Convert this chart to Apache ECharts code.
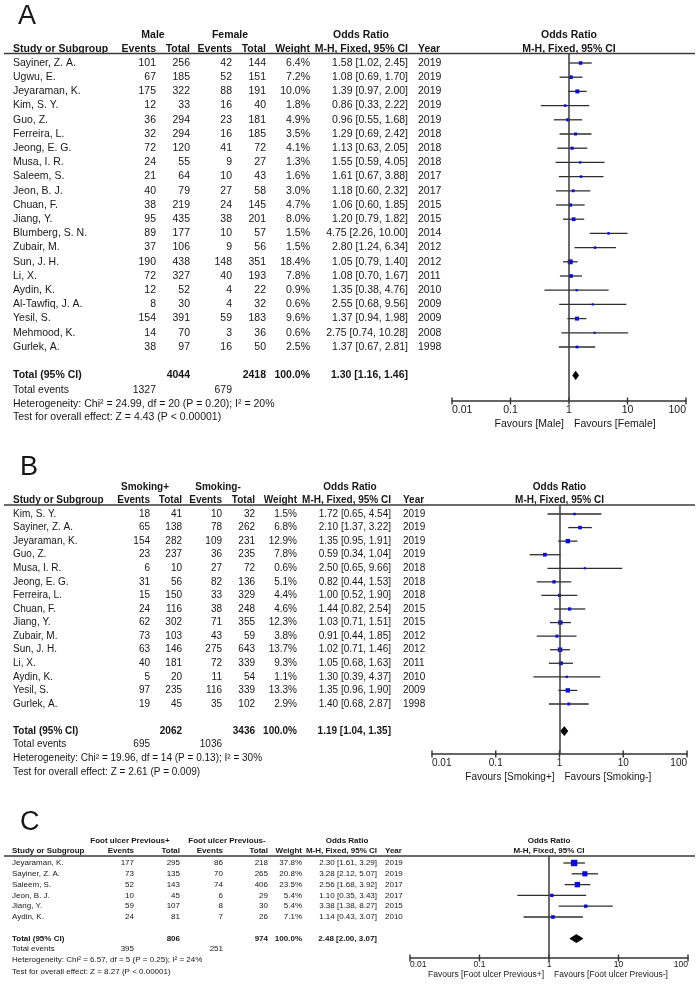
<!DOCTYPE html>
<html><head><meta charset="utf-8">
<script src="https://cdn.jsdelivr.net/npm/echarts@6/dist/echarts.min.js"></script>
<style>html,body{margin:0;padding:0;background:#fff}#c{width:700px;height:985px}</style>
</head><body><div id="c"></div>
<script>
// ---------- Panel A : Male vs Female ----------
const A_study = ['Sayiner, Z. A.','Ugwu, E.','Jeyaraman, K.','Kim, S. Y.','Guo, Z.','Ferreira, L.','Jeong, E. G.','Musa, I. R.','Saleem, S.','Jeon, B. J.','Chuan, F.','Jiang, Y.','Blumberg, S. N.','Zubair, M.','Sun, J. H.','Li, X.','Aydin, K.','Al-Tawfiq, J. A.','Yesil, S.','Mehmood, K.','Gurlek, A.'];
const A_ev1 = [101,67,175,12,36,32,72,24,21,40,38,95,89,37,190,72,12,8,154,14,38];
const A_tot1 = [256,185,322,33,294,294,120,55,64,79,219,435,177,106,438,327,52,30,391,70,97];
const A_ev2 = [42,52,88,16,23,16,41,9,10,27,24,38,10,9,148,40,4,4,59,3,16];
const A_tot2 = [144,151,191,40,181,185,72,27,43,58,145,201,57,56,351,193,22,32,183,36,50];
const A_weight = [6.4,7.2,10.0,1.8,4.9,3.5,4.1,1.3,1.6,3.0,4.7,8.0,1.5,1.5,18.4,7.8,0.9,0.6,9.6,0.6,2.5];
const A_or = [1.58,1.08,1.39,0.86,0.96,1.29,1.13,1.55,1.61,1.18,1.06,1.20,4.75,2.80,1.05,1.08,1.35,2.55,1.37,2.75,1.37];
const A_lo = [1.02,0.69,0.97,0.33,0.55,0.69,0.63,0.59,0.67,0.60,0.60,0.79,2.26,1.24,0.79,0.70,0.38,0.68,0.94,0.74,0.67];
const A_hi = [2.45,1.70,2.00,2.22,1.68,2.42,2.05,4.05,3.88,2.32,1.85,1.82,10.00,6.34,1.40,1.67,4.76,9.56,1.98,10.28,2.81];
const A_year = [2019,2019,2019,2019,2019,2018,2018,2018,2017,2017,2015,2015,2014,2012,2012,2011,2010,2009,2009,2008,1998];
const A_groups = ['Male','Female'];
const A_total = {tot1:4044, tot2:2418, ev1:1327, ev2:679, or:1.30, lo:1.16, hi:1.46};
const A_stats = {chi2:'24.99', df:20, p:'0.20', i2:20, z:'4.43', pz:'P < 0.00001'};

// ---------- Panel B : Smoking ----------
const B_study = ['Kim, S. Y.','Sayiner, Z. A.','Jeyaraman, K.','Guo, Z.','Musa, I. R.','Jeong, E. G.','Ferreira, L.','Chuan, F.','Jiang, Y.','Zubair, M.','Sun, J. H.','Li, X.','Aydin, K.','Yesil, S.','Gurlek, A.'];
const B_ev1 = [18,65,154,23,6,31,15,24,62,73,63,40,5,97,19];
const B_tot1 = [41,138,282,237,10,56,150,116,302,103,146,181,20,235,45];
const B_ev2 = [10,78,109,36,27,82,33,38,71,43,275,72,11,116,35];
const B_tot2 = [32,262,231,235,72,136,329,248,355,59,643,339,54,339,102];
const B_weight = [1.5,6.8,12.9,7.8,0.6,5.1,4.4,4.6,12.3,3.8,13.7,9.3,1.1,13.3,2.9];
const B_or = [1.72,2.10,1.35,0.59,2.50,0.82,1.00,1.44,1.03,0.91,1.02,1.05,1.30,1.35,1.40];
const B_lo = [0.65,1.37,0.95,0.34,0.65,0.44,0.52,0.82,0.71,0.44,0.71,0.68,0.39,0.96,0.68];
const B_hi = [4.54,3.22,1.91,1.04,9.66,1.53,1.90,2.54,1.51,1.85,1.46,1.63,4.37,1.90,2.87];
const B_year = [2019,2019,2019,2019,2018,2018,2018,2015,2015,2012,2012,2011,2010,2009,1998];
const B_groups = ['Smoking+','Smoking-'];
const B_total = {tot1:2062, tot2:3436, ev1:695, ev2:1036, or:1.19, lo:1.04, hi:1.35};
const B_stats = {chi2:'19.96', df:14, p:'0.13', i2:30, z:'2.61', pz:'P = 0.009'};

// ---------- Panel C : Previous foot ulcer ----------
const C_study = ['Jeyaraman, K.','Sayiner, Z. A.','Saleem, S.','Jeon, B. J.','Jiang, Y.','Aydin, K.'];
const C_ev1 = [177,73,52,10,59,24];
const C_tot1 = [295,135,143,45,107,81];
const C_ev2 = [86,70,74,6,8,7];
const C_tot2 = [218,265,406,29,30,26];
const C_weight = [37.8,20.8,23.5,5.4,5.4,7.1];
const C_or = [2.30,3.28,2.56,1.10,3.38,1.14];
const C_lo = [1.61,2.12,1.68,0.35,1.38,0.43];
const C_hi = [3.29,5.07,3.92,3.43,8.27,3.07];
const C_year = [2019,2019,2017,2017,2015,2010];
const C_groups = ['Foot ulcer Previous+','Foot ulcer Previous-'];
const C_total = {tot1:806, tot2:974, ev1:395, ev2:251, or:2.48, lo:2.00, hi:3.07};
const C_stats = {chi2:'6.57', df:5, p:'0.25', i2:24, z:'8.27', pz:'P < 0.00001'};

const AXIS_TICKS = [0.01, 0.1, 1, 10, 100];

// ---------- layout (positions & styles) ----------
const FONT = '"Liberation Sans", Arial, sans-serif';
const INK = '#161616';
const LAYOUTS = [
  {letter:'A', letterX:18, letterY:17, letterSize:27, fs:10.5, h1Y:35, h2Y:49, ruleY:53.5,
   rowY0:63, rowH:14.2, totalIdx:22, evY:390, hetY:404, testY:417,
   nameX:13, cols:[156,190,232,266,310,408], yearX:418, grp:[153,230,361],
   plotL:452, plotR:686, axisY:401, favY:424, axFs:10.5, labMargin:4, dia:4.2},
  {letter:'B', letterX:20, letterY:468, letterSize:27, fs:10, h1Y:487, h2Y:500, ruleY:505,
   rowY0:514, rowH:13.57, totalIdx:16, evY:744, hetY:758, testY:772,
   nameX:13, cols:[150,182,222,255,297,391], yearX:403, grp:[145,218,350],
   plotL:432, plotR:687, axisY:754, favY:777, axFs:10, labMargin:4, dia:4.5},
  {letter:'C', letterX:20, letterY:823, letterSize:27, fs:8, h1Y:841, h2Y:851, ruleY:856,
   rowY0:863, rowH:10.8, totalIdx:7, evY:949, hetY:960, testY:972,
   nameX:12, cols:[134,180,223,268,302,377], yearX:385, grp:[130,227,347],
   plotL:410, plotR:688, axisY:958, favY:975, axFs:8.5, labMargin:2, dia:4}
];
const DATA = [
  {study:A_study, ev1:A_ev1, tot1:A_tot1, ev2:A_ev2, tot2:A_tot2, w:A_weight, or:A_or, lo:A_lo, hi:A_hi, year:A_year, groups:A_groups, total:A_total, stats:A_stats},
  {study:B_study, ev1:B_ev1, tot1:B_tot1, ev2:B_ev2, tot2:B_tot2, w:B_weight, or:B_or, lo:B_lo, hi:B_hi, year:B_year, groups:B_groups, total:B_total, stats:B_stats},
  {study:C_study, ev1:C_ev1, tot1:C_tot1, ev2:C_ev2, tot2:C_tot2, w:C_weight, or:C_or, lo:C_lo, hi:C_hi, year:C_year, groups:C_groups, total:C_total, stats:C_stats}
];

const f2 = v => v.toFixed(2);
const orText = (o,l,h) => `${f2(o)} [${f2(l)}, ${f2(h)}]`;
const logLabel = v => String(+(+v).toPrecision(6));

const option = {animation:false, backgroundColor:'#fff', graphic:[], grid:[], xAxis:[], yAxis:[], series:[]};

DATA.forEach((D,k) => {
  const L = LAYOUTS[k];
  const G = option.graphic;
  const T = (x,y,s,align,bold,size) => G.push({type:'text', x:x, y:y, silent:true,
    style:{text:String(s), textAlign:align||'left', textVerticalAlign:'middle',
           font:(bold?'bold ':'')+(size||L.fs)+'px '+FONT, fill:INK}});
  const c = L.cols;
  const cx = (L.plotL + L.plotR)/2;
  T(L.letterX, L.letterY, L.letter, 'left', false, L.letterSize);
  // headers
  T(L.grp[0], L.h1Y, D.groups[0], 'center', true);
  T(L.grp[1], L.h1Y, D.groups[1], 'center', true);
  T(L.grp[2], L.h1Y, 'Odds Ratio', 'center', true);
  T(cx, L.h1Y, 'Odds Ratio', 'center', true);
  T(L.nameX, L.h2Y, 'Study or Subgroup', 'left', true);
  ['Events','Total','Events','Total','Weight','M-H, Fixed, 95% CI'].forEach((s,i)=>T(c[i], L.h2Y, s, 'right', true));
  T(L.yearX, L.h2Y, 'Year', 'left', true);
  T(cx, L.h2Y, 'M-H, Fixed, 95% CI', 'center', true);
  G.push({type:'line', silent:true, shape:{x1:4, y1:L.ruleY, x2:695, y2:L.ruleY}, style:{stroke:'#3a3a3a', lineWidth:1.5}});
  // study rows
  D.study.forEach((s,i) => {
    const y = L.rowY0 + i*L.rowH;
    T(L.nameX, y, s);
    T(c[0], y, D.ev1[i], 'right');
    T(c[1], y, D.tot1[i], 'right');
    T(c[2], y, D.ev2[i], 'right');
    T(c[3], y, D.tot2[i], 'right');
    T(c[4], y, D.w[i].toFixed(1)+'%', 'right');
    T(c[5], y, orText(D.or[i], D.lo[i], D.hi[i]), 'right');
    T(L.yearX, y, D.year[i], 'left');
  });
  // totals
  const ty = L.rowY0 + L.totalIdx*L.rowH;
  const t = D.total;
  T(L.nameX, ty, 'Total (95% CI)', 'left', true);
  T(c[1], ty, t.tot1, 'right', true);
  T(c[3], ty, t.tot2, 'right', true);
  T(c[4], ty, '100.0%', 'right', true);
  T(c[5], ty, orText(t.or, t.lo, t.hi), 'right', true);
  T(L.nameX, L.evY, 'Total events');
  T(c[0], L.evY, t.ev1, 'right');
  T(c[2], L.evY, t.ev2, 'right');
  const st = D.stats;
  T(L.nameX, L.hetY, `Heterogeneity: Chi\u00b2 = ${st.chi2}, df = ${st.df} (P = ${st.p}); I\u00b2 = ${st.i2}%`);
  T(L.nameX, L.testY, `Test for overall effect: Z = ${st.z} (${st.pz})`);
  // favours
  T(cx-5, L.favY, `Favours [${D.groups[0]}]`, 'right', false, L.axFs);
  T(cx+5, L.favY, `Favours [${D.groups[1]}]`, 'left', false, L.axFs);

  // ----- forest plot coordinate system -----
  const yMin = (L.ruleY - L.rowY0)/L.rowH, yMax = (L.axisY - L.rowY0)/L.rowH;
  option.grid.push({left:L.plotL, top:L.ruleY, width:L.plotR-L.plotL, height:L.axisY-L.ruleY, outerBoundsMode:'none', containLabel:false});
  option.xAxis.push({type:'log', logBase:10, gridIndex:k, min:AXIS_TICKS[0], max:AXIS_TICKS[AXIS_TICKS.length-1],
    position:'bottom', splitLine:{show:false}, minorTick:{show:false},
    axisLine:{show:true, onZero:false, lineStyle:{color:'#333', width:1.5}},
    axisTick:{show:false},
    axisLabel:{show:true, fontSize:L.axFs, fontFamily:FONT, color:INK, margin:L.labMargin,
               formatter:logLabel, alignMinLabel:'left', alignMaxLabel:'right', showMinLabel:true, showMaxLabel:true}
  });
  option.yAxis.push({type:'value', gridIndex:k, inverse:true, show:false, min:yMin, max:yMax});

  // decade tick marks crossing the axis line
  option.series.push({
    type:'custom', xAxisIndex:k, yAxisIndex:k, clip:false, silent:true,
    data: AXIS_TICKS.map(v => [v, yMax]),
    encode:{x:0, y:1},
    renderItem:(params, api) => {
      const p = api.coord([api.value(0), api.value(1)]);
      return {type:'line', shape:{x1:p[0], y1:p[1]-3.5, x2:p[0], y2:p[1]+3.5}, style:{stroke:'#333', lineWidth:1.4}};
    },
    z:2
  });
  option.series.push({
    type:'custom', xAxisIndex:k, yAxisIndex:k, clip:false, silent:true,
    data: D.or.map((o,i) => [D.lo[i], D.hi[i], o, i, D.w[i]]),
    encode:{x:[0,1,2], y:3},
    renderItem:(params, api) => {
      const r = api.value(3);
      const a = api.coord([api.value(0), r]);
      const b = api.coord([api.value(1), r]);
      const m = api.coord([api.value(2), r]);
      const s = 1.5 + 0.8*Math.sqrt(api.value(4));
      return {type:'group', children:[
        {type:'line', shape:{x1:a[0], y1:a[1], x2:b[0], y2:b[1]}, style:{stroke:'#2e2e2e', lineWidth:1.3}},
        {type:'rect', shape:{x:m[0]-s/2, y:m[1]-s/2, width:s, height:s}, style:{fill:'#0a0ae6'}}
      ]};
    },
    markLine:{silent:true, symbol:'none', animation:false, label:{show:false},
              lineStyle:{color:'#3a3a3a', width:1.5, type:'solid'}, data:[{xAxis:1}]},
    z:3
  });
  option.series.push({
    type:'custom', xAxisIndex:k, yAxisIndex:k, clip:false, silent:true,
    data:[[t.lo, t.hi, t.or, L.totalIdx]],
    encode:{x:[0,1,2], y:3},
    renderItem:(params, api) => {
      const r = api.value(3);
      const a = api.coord([api.value(0), r]);
      const b = api.coord([api.value(1), r]);
      const m = api.coord([api.value(2), r]);
      const h = L.dia;
      return {type:'polygon', shape:{points:[[a[0],a[1]],[m[0],m[1]-h],[b[0],b[1]],[m[0],m[1]+h]]},
              style:{fill:'#000', stroke:'#000', lineWidth:0.8}};
    },
    z:4
  });
});

const chart = echarts.init(document.getElementById('c'), null, {renderer:'canvas', width:700, height:985});
chart.setOption(option);
</script>
</body></html>
